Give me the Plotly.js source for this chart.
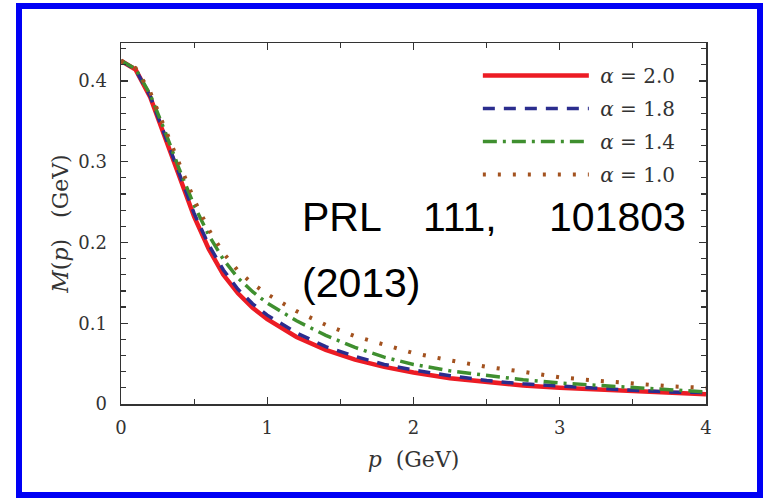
<!DOCTYPE html>
<html>
<head>
<meta charset="utf-8">
<script src="https://cdn.plot.ly/plotly-3.0.1.min.js"></script>
<style>
  html, body { margin: 0; padding: 0; background: #fff; }
  #chart { position: absolute; left: 0; top: 0; width: 765px; height: 499px; }
  #frame { position: absolute; left: 16px; top: 3px; width: 747px; height: 495px;
           border: 6px solid #0000f5; box-sizing: border-box; pointer-events: none; z-index: 10; }
</style>
</head>
<body>
<div id="chart"></div>
<div id="frame"></div>
<script>
// momentum p (GeV)
const p = [0, 0.1, 0.2, 0.3, 0.4, 0.5, 0.6, 0.7, 0.8, 0.9, 1.0, 1.2, 1.4, 1.6, 1.8, 2.0, 2.25, 2.5, 2.75, 3.0, 3.25, 3.5, 3.75, 4.0];
// M(p) (GeV) for each alpha
const M_a20 = [0.425, 0.414, 0.380, 0.331, 0.280, 0.232, 0.192, 0.160, 0.137, 0.119, 0.105, 0.083, 0.067, 0.055, 0.046, 0.039, 0.032, 0.027, 0.023, 0.020, 0.018, 0.016, 0.014, 0.012];
const M_a18 = [0.425, 0.414, 0.381, 0.333, 0.283, 0.236, 0.197, 0.166, 0.142, 0.124, 0.110, 0.088, 0.071, 0.059, 0.049, 0.042, 0.035, 0.029, 0.025, 0.022, 0.019, 0.017, 0.015, 0.014];
const M_a14 = [0.425, 0.415, 0.383, 0.338, 0.290, 0.246, 0.209, 0.179, 0.156, 0.139, 0.125, 0.103, 0.085, 0.070, 0.058, 0.049, 0.041, 0.035, 0.030, 0.026, 0.023, 0.020, 0.017, 0.015];
const M_a10 = [0.425, 0.416, 0.386, 0.343, 0.297, 0.253, 0.216, 0.187, 0.165, 0.149, 0.136, 0.115, 0.098, 0.084, 0.073, 0.063, 0.054, 0.046, 0.040, 0.033, 0.029, 0.025, 0.022, 0.020];
const seriesNames = ['&nbsp;<i>α</i> = 2.0', '&nbsp;<i>α</i> = 1.8', '&nbsp;<i>α</i> = 1.4', '&nbsp;<i>α</i> = 1.0'];
const xTickVals = [0, 1, 2, 3, 4];
const xTickText = ['0', '1', '2', '3', '4'];
const yTickVals = [0, 0.1, 0.2, 0.3, 0.4];
const yTickText = ['0', '0.1', '0.2', '0.3', '0.4'];

const serif = 'DejaVu Serif, serif';

const traces = [
  {x: p, y: M_a20, name: seriesNames[0], legendgroup: 'a', line: {color: '#ec1c24', width: 4.5}},
  {x: p, y: M_a18, name: seriesNames[1], legendgroup: 'b', line: {color: '#2b2d8e', width: 3.5, dash: '12px,9px'}},
  {x: p, y: M_a14, name: seriesNames[2], legendgroup: 'c', line: {color: '#3f8f2f', width: 3.5, dash: '14px,6px,3px,6px'}},
  {x: p, y: M_a10, name: seriesNames[3], legendgroup: 'd', line: {color: '#a3521f', width: 4, dash: '3px,12px'}}
].map(t => Object.assign({type: 'scatter', mode: 'lines', hoverinfo: 'skip'}, t));

const axisCommon = {
  showline: true, linecolor: '#333', linewidth: 1.5, mirror: 'allticks',
  ticks: 'inside', ticklen: 7, tickwidth: 1.2, tickcolor: '#333',
  showgrid: false, zeroline: false,
  tickfont: {family: serif, size: 18, color: '#333'}
};

const layout = {
  width: 765, height: 499,
  margin: {l: 121, r: 59, t: 43, b: 95},
  paper_bgcolor: '#fff', plot_bgcolor: '#fff',
  showlegend: true,
  legend: {
    x: 0.610, xanchor: 'left', y: 0.964, yanchor: 'top',
    bgcolor: 'rgba(0,0,0,0)', borderwidth: 0,
    itemwidth: 106, traceorder: 'grouped', tracegroupgap: 4,
    font: {family: serif, size: 20, color: '#333'}
  },
  xaxis: Object.assign({}, axisCommon, {
    range: [0, 4], tickvals: xTickVals, ticktext: xTickText, ticklabelstandoff: 7,
    minor: {dtick: 0.5, tick0: 0, ticks: 'inside', ticklen: 5, tickcolor: '#333'},
    title: {text: '<i>p</i>&nbsp;&nbsp;(GeV)', font: {family: serif, size: 22, color: '#333'}, standoff: 14}
  }),
  yaxis: Object.assign({}, axisCommon, {
    range: [0, 0.447], tickvals: yTickVals, ticktext: yTickText, ticklabelstandoff: 9,
    minor: {dtick: 0.02, tick0: 0, ticks: 'inside', ticklen: 5, tickcolor: '#333'},
    title: {text: '<i>M</i>(<i>p</i>)&nbsp;&nbsp;&nbsp;(GeV)', font: {family: serif, size: 22, color: '#333'}, standoff: 3}
  }),
  annotations: [
    {text: 'PRL', x: 0.306, xanchor: 'left', y: 0.519, yanchor: 'middle'},
    {text: '111,', x: 0.513, xanchor: 'left', y: 0.519, yanchor: 'middle'},
    {text: '101803', x: 0.969, xanchor: 'right', y: 0.519, yanchor: 'middle'},
    {text: '(2013)', x: 0.306, xanchor: 'left', y: 0.334, yanchor: 'middle'}
  ].map(a => Object.assign({xref: 'paper', yref: 'paper', showarrow: false,
     font: {family: 'Liberation Sans, Arial, sans-serif', size: 41, color: '#000'}}, a))
};

Plotly.newPlot('chart', traces, layout, {staticPlot: true, displayModeBar: false});
</script>
</body>
</html>
